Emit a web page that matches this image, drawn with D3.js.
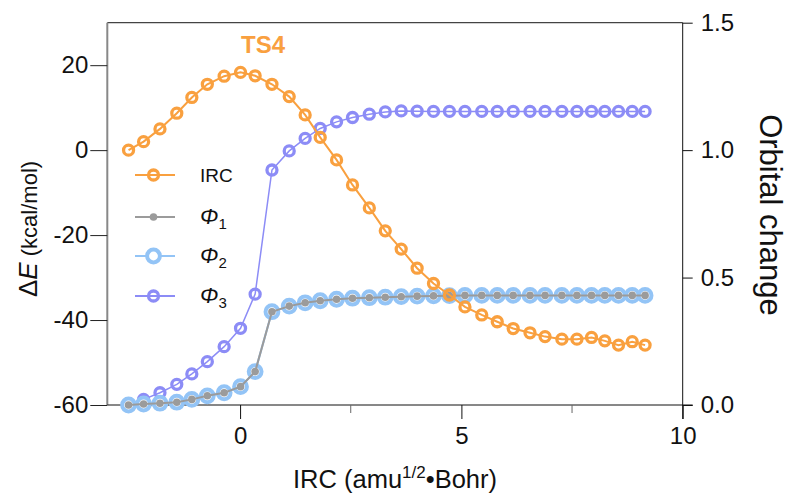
<!DOCTYPE html>
<html><head><meta charset="utf-8">
<script src="https://cdn.jsdelivr.net/npm/d3@7"></script>
<style>
body{margin:0;background:#fff;}
text{font-family:"Liberation Sans",Arial,sans-serif;}
</style></head>
<body><svg id="c" width="789" height="495"></svg>
<script>
const ircX = [-2.52,-2.18,-1.81,-1.43,-1.09,-0.74,-0.36,0.01,0.34,0.72,1.11,1.47,1.81,2.18,2.54,2.92,3.28,3.64,4.00,4.37,4.73,5.08,5.46,5.81,6.17,6.55,6.89,7.27,7.61,7.94,8.24,8.55,8.86,9.15];
const energy = [0.0,2.0,5.0,8.7,12.4,15.5,17.4,18.3,17.5,15.5,12.6,8.3,3.0,-2.3,-8.2,-13.6,-19.0,-23.3,-27.8,-31.4,-34.1,-36.9,-38.8,-40.4,-42.0,-43.0,-43.9,-44.5,-44.5,-44.1,-44.9,-45.9,-45.1,-45.9];
const phi1 = [0.000,0.004,0.007,0.011,0.022,0.036,0.048,0.072,0.131,0.366,0.388,0.401,0.409,0.415,0.419,0.421,0.423,0.425,0.427,0.428,0.429,0.430,0.430,0.430,0.430,0.430,0.430,0.430,0.430,0.430,0.430,0.430,0.430,0.430];
const phi2 = [0.000,0.004,0.007,0.011,0.022,0.036,0.048,0.072,0.131,0.366,0.388,0.401,0.409,0.415,0.419,0.421,0.423,0.425,0.427,0.428,0.429,0.430,0.430,0.430,0.430,0.430,0.430,0.430,0.430,0.430,0.430,0.430,0.430,0.430];
const phi3 = [0.004,0.022,0.048,0.081,0.122,0.170,0.229,0.301,0.435,0.922,0.997,1.046,1.085,1.111,1.128,1.141,1.150,1.154,1.153,1.152,1.152,1.152,1.152,1.152,1.152,1.152,1.152,1.152,1.152,1.152,1.152,1.152,1.152,1.152];
const xTicks = [0,5,10];
const xMinor = [2.5,7.5];
const yLeftTicks = [-60,-40,-20,0,20];
const yRightTicks = [0.0,0.5,1.0,1.5];
const legendNames = ["IRC","Φ1","Φ2","Φ3"];

const svg = d3.select("#c");
const L=107.3,R=682.7,T=22.7,B=405;
const x = d3.scaleLinear().domain([-3,10]).range([L,R]);
const yL = d3.scaleLinear().domain([-60,30]).range([B,T]);
const yR = d3.scaleLinear().domain([0,1.5]).range([B,T]);

const C = {irc:"#f9a03f", p1:"#9b9b9b", p2:"#93c4f6", p3:"#8c8cf6"};
const FONT = 24;
const hy = d => String(d).replace("−","-");

// top border
svg.append("line").attr("x1",L).attr("x2",R).attr("y1",T).attr("y2",T).attr("stroke","#444").attr("stroke-width",1.2);

// left axis
const gl = svg.append("g").attr("transform",`translate(${L},0)`)
  .call(d3.axisLeft(yL).tickValues(yLeftTicks).tickSize(17).tickPadding(2).tickFormat(d=>hy(d)));
gl.select(".domain").attr("stroke","#888").attr("stroke-width",2).attr("d",`M0,${B}V${T}`);
gl.selectAll(".tick line").attr("stroke","#222");
gl.selectAll(".tick text").attr("font-size",FONT).attr("fill","#111").attr("font-family","Liberation Sans, Arial");

// bottom axis
const gb = svg.append("g").attr("transform",`translate(0,${B})`)
  .call(d3.axisBottom(x).tickValues(xTicks).tickSize(14).tickPadding(8).tickFormat(d=>hy(d)));
gb.select(".domain").attr("stroke","#111").attr("d",`M${L},0H${R+10}`);
gb.selectAll(".tick line").attr("stroke","#111");
gb.selectAll(".tick text").attr("font-size",FONT).attr("fill","#111").attr("font-family","Liberation Sans, Arial");
svg.append("g").selectAll("line").data(xMinor).join("line")
  .attr("x1",d=>x(d)).attr("x2",d=>x(d)).attr("y1",B).attr("y2",B+8).attr("stroke","#666");

// right axis
const gr = svg.append("g").attr("transform",`translate(${R},0)`)
  .call(d3.axisRight(yR).tickValues(yRightTicks).tickSize(10).tickPadding(8).tickFormat(d3.format(".1f")));
gr.select(".domain").attr("stroke","#111").attr("d",`M0,${T}V${B+14}`);
gr.selectAll(".tick line").attr("stroke","#111");
gr.selectAll(".tick text").attr("font-size",FONT).attr("fill","#111").attr("font-family","Liberation Sans, Arial");

// axis titles
const xt = svg.append("text").attr("x",395).attr("y",488).attr("text-anchor","middle").attr("font-size",25.5).attr("fill","#111");
xt.append("tspan").text("IRC (amu");
xt.append("tspan").attr("font-size",17).attr("dy",-10).text("1/2");
xt.append("tspan").attr("dy",10).text("•Bohr)");

const yt = svg.append("text").attr("transform","translate(37,229) rotate(-90)").attr("text-anchor","middle").attr("font-size",26).attr("fill","#111");
yt.append("tspan").text("Δ");
yt.append("tspan").attr("font-style","italic").text("E");
yt.append("tspan").attr("font-size",22).text(" (kcal/mol)");

svg.append("text").attr("transform","translate(760,215) rotate(90)").attr("text-anchor","middle").attr("font-size",31).attr("fill","#111").text("Orbital change");

svg.append("text").attr("x",263).attr("y",53).attr("text-anchor","middle").attr("font-size",24).attr("font-weight","bold").attr("fill",C.irc).text("TS4");

// series
const idx = d3.range(ircX.length);
function series(vals, scale, color, lw, r, sw, fill, filled){
  svg.append("path").datum(idx).attr("fill","none").attr("stroke",color).attr("stroke-width",lw)
    .attr("d",d3.line().x(i=>x(ircX[i])).y(i=>scale(vals[i])));
  svg.append("g").selectAll("circle").data(idx).join("circle")
    .attr("cx",i=>x(ircX[i])).attr("cy",i=>scale(vals[i])).attr("r",r)
    .attr("fill",filled?color:fill).attr("stroke",filled?"none":color).attr("stroke-width",sw);
}
series(phi3, yR, C.p3, 1.5, 5.0, 3.3, "none", false);
series(phi2, yR, C.p2, 2, 6.4, 4, "#fff", false);
series(phi1, yR, C.p1, 2, 3.8, 0, null, true);
series(energy, yL, C.irc, 2, 5.0, 3.3, "none", false);

// legend
const legY = [175,217,256,296];
const legC = [C.irc,C.p1,C.p2,C.p3];
const lg = svg.append("g");
legendNames.forEach((n,k)=>{
  const y0 = legY[k];
  lg.append("line").attr("x1",135).attr("x2",175).attr("y1",y0).attr("y2",y0).attr("stroke",legC[k]).attr("stroke-width",2);
  const c = lg.append("circle").attr("cx",153.5).attr("cy",y0);
  if(k===1) c.attr("r",3.8).attr("fill",legC[k]);
  else if(k===2) c.attr("r",6.4).attr("fill","#fff").attr("stroke",legC[k]).attr("stroke-width",4);
  else c.attr("r",5.0).attr("fill","none").attr("stroke",legC[k]).attr("stroke-width",3.3);
  const t = lg.append("text").attr("x",200).attr("y",y0+7).attr("font-size",19).attr("fill","#111");
  if(k===0) t.text(n);
  else {
    t.append("tspan").attr("font-style","italic").attr("font-size",22).text(n[0]);
    t.append("tspan").attr("font-size",15).attr("dy",5).text(n.slice(1));
  }
});
</script></body></html>
